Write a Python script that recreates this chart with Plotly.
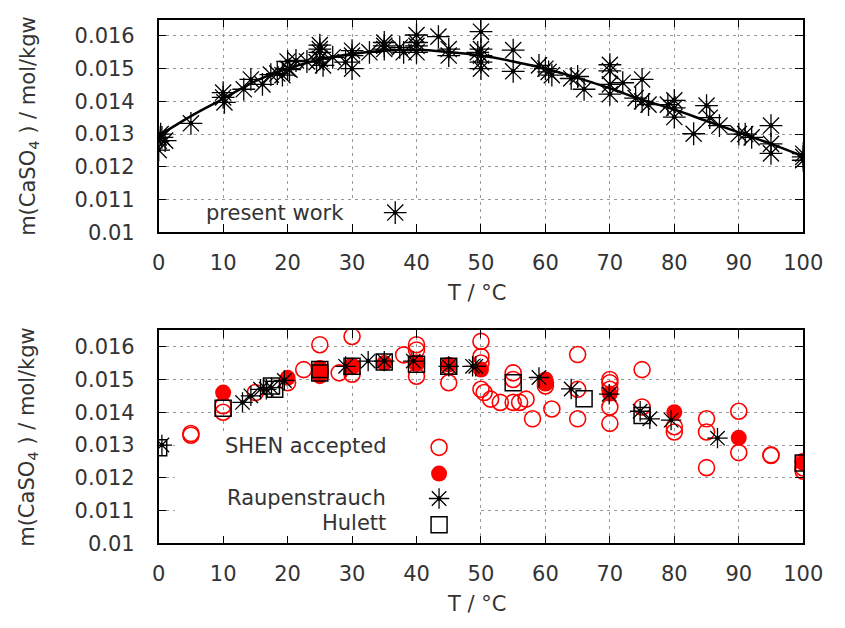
import plotly.graph_objects as go

# ---------------- data ----------------
# present work: measured solubilities (T in degC, m in mol/kgw)
pw_T = [0, 0, 0.3, 0.5, 1, 0, 5, 10, 10, 10.2, 13.2, 14.3, 16.1, 17.4, 18.4, 19.2,
        20, 20, 20.3, 21.3, 23, 24.5, 25, 25, 25, 25, 25.5, 27, 29,
        30, 30, 30, 32.7, 35, 35, 35, 37.4, 38, 40, 40, 40, 40, 43.4, 45, 45,
        49.5, 50, 50, 50, 50, 50, 55, 55, 59, 60, 60.5, 61, 64, 65, 66,
        70, 70, 70, 70, 72, 74, 75, 75, 76, 79, 80, 80, 80, 83, 85, 85.5, 87,
        90, 91, 92, 95, 95, 95, 100, 100, 100]
pw_m = [0.0128, 0.0129, 0.0130, 0.0129, 0.0128, 0.01251, 0.01333, 0.01412, 0.01427, 0.01397,
        0.01437, 0.01467, 0.01452, 0.01482, 0.01485, 0.0148,
        0.01522, 0.0150, 0.01497, 0.01525, 0.01522, 0.0152, 0.01572, 0.0156, 0.0155, 0.0153, 0.0151,
        0.01535, 0.0152,
        0.0154, 0.0150, 0.01555, 0.0155, 0.0157, 0.0156, 0.0158, 0.01565, 0.0155,
        0.01603, 0.0157, 0.0155, 0.0158, 0.01598, 0.0156, 0.0154,
        0.0155, 0.01613, 0.0156, 0.0154, 0.0150, 0.0152, 0.01557, 0.01492,
        0.0151, 0.0150, 0.0149, 0.0148, 0.0147, 0.01476, 0.01437,
        0.01512, 0.01493, 0.01452, 0.01422, 0.01457, 0.0141, 0.01467, 0.0140, 0.0139,
        0.0139, 0.01403, 0.0138, 0.01352, 0.01301, 0.01387, 0.0135, 0.01326,
        0.0130, 0.0130, 0.0129, 0.01326, 0.01241, 0.0127, 0.0122, 0.0123, 0.0124]

# present work: model curve
curve_T = [0, 5, 10, 15, 20, 25, 30, 35, 40, 45, 50, 55, 60, 65, 70, 75, 80, 85, 90, 95, 100]
curve_m = [0.01295, 0.01355, 0.01408, 0.01462, 0.01500, 0.01528, 0.01545, 0.01555, 0.01558,
           0.01551, 0.01540, 0.01522, 0.01500, 0.01472, 0.01440, 0.01405, 0.01375, 0.01340,
           0.01305, 0.01270, 0.01232]

# SHEN accepted (open circles)
shen_T = [5, 5, 10, 10, 15, 20, 22.5, 25, 25, 25, 28, 30, 30, 30, 38, 40, 40, 40, 40, 45, 45,
          50, 50, 50, 50, 50.5, 51.5, 53, 55, 56, 57, 55, 55, 58, 60, 60, 61, 65, 65, 65,
          70, 70, 70, 70, 70, 75, 75, 80, 80, 85, 85, 85, 90, 90, 95, 95, 100, 100, 100]
shen_m = [0.01335, 0.0133, 0.0142, 0.0140, 0.0146, 0.0149, 0.0153, 0.01606, 0.0152, 0.0153,
          0.0152, 0.01631, 0.01516, 0.0154, 0.01575, 0.01606, 0.0159, 0.0151, 0.0155, 0.0149,
          0.0154, 0.01616, 0.0157, 0.0155, 0.0147, 0.0146, 0.0144, 0.0143, 0.0143, 0.0143,
          0.0144, 0.0152, 0.0150, 0.0138, 0.0148, 0.0149, 0.0141, 0.01576, 0.0147, 0.0138,
          0.0150, 0.0149, 0.0147, 0.01416, 0.01366, 0.0153, 0.01416, 0.01356, 0.0134,
          0.0138, 0.0134, 0.01231, 0.01403, 0.01277, 0.0127, 0.01268, 0.0125, 0.0123, 0.0122]

# SHEN accepted (filled circles)
shenf_T = [10, 20, 25, 25, 30, 35, 40, 45, 50, 60, 60, 70, 80, 90, 100]
shenf_m = [0.0146, 0.01505, 0.01535, 0.0151, 0.0154, 0.0155, 0.0155, 0.01545, 0.0153,
           0.0150, 0.0149, 0.01457, 0.0140, 0.01322, 0.01246]

# Raupenstrauch
rau_T = [0.5, 13, 14.3, 15.8, 16.7, 17.5, 19.5, 29, 32.5, 35, 39.5, 45, 48.7, 49.2,
         59, 64, 69.9, 74.7, 76.2, 79.5, 86.7]
rau_m = [0.0130, 0.0143, 0.0145, 0.0147, 0.0147, 0.01475, 0.01497, 0.0154, 0.01556,
         0.01556, 0.01556, 0.0154, 0.0154, 0.0154, 0.01506, 0.01471, 0.01455, 0.01403,
         0.0138, 0.01376, 0.01321]

# Hulett
hul_T = [0, 10, 17.5, 18, 25, 25, 30, 35, 40, 45, 55, 66, 75, 100]
hul_m = [0.01292, 0.01412, 0.0148, 0.0147, 0.0153, 0.0152, 0.0154, 0.01553, 0.01546,
         0.0154, 0.0149, 0.01441, 0.0139, 0.01245]

x_ticks = [0, 10, 20, 30, 40, 50, 60, 70, 80, 90, 100]
y_ticks = [0.010, 0.011, 0.012, 0.013, 0.014, 0.015, 0.016]
y_ticktext = ["0.01", "0.011", "0.012", "0.013", "0.014", "0.015", "0.016"]

# ---------------- styling ----------------
W, H = 845, 628
FONT = "DejaVu Sans"
FS = 21
TXT = "#333333"
RED = "#ff0000"
xdom = [156.7 / W, 822.5 / W]
top_dom = [1 - 236.7 / H, 1 - 20 / H]
bot_dom = [1 - 554 / H, 1 - 336.7 / H]

fig = go.Figure()


def star_traces(xs, ys, xa, ya, size):
    fig.add_trace(go.Scatter(x=xs, y=ys, mode="markers", xaxis=xa, yaxis=ya, showlegend=False,
                             marker=dict(symbol="asterisk-open", size=size, color="black",
                                         line=dict(color="black", width=1.3))))
    fig.add_trace(go.Scatter(x=xs, y=ys, mode="markers", xaxis=xa, yaxis=ya, showlegend=False,
                             marker=dict(symbol="circle", size=4.5, color="black")))


# top panel
star_traces(pw_T, pw_m, "x", "y", 19)
fig.add_trace(go.Scatter(x=curve_T, y=curve_m, mode="lines", xaxis="x", yaxis="y",
                         showlegend=False, line=dict(color="black", width=2.5, shape="spline")))

# bottom panel
fig.add_trace(go.Scatter(x=shen_T, y=shen_m, mode="markers", xaxis="x2", yaxis="y2",
                         showlegend=False,
                         marker=dict(symbol="circle-open", size=16, color=RED,
                                     line=dict(color=RED, width=1.6))))
fig.add_trace(go.Scatter(x=shenf_T, y=shenf_m, mode="markers", xaxis="x2", yaxis="y2",
                         showlegend=False,
                         marker=dict(symbol="circle", size=16, color=RED,
                                     line=dict(color=RED, width=0))))
star_traces(rau_T, rau_m, "x2", "y2", 17)
fig.add_trace(go.Scatter(x=hul_T, y=hul_m, mode="markers", xaxis="x2", yaxis="y2",
                         showlegend=False,
                         marker=dict(symbol="square-open", size=16, color="black",
                                     line=dict(color="black", width=1.5))))

# key entries (symbol samples placed in axis units)
key_top = dict(x=36.7, y=0.0106)
star_traces([key_top["x"]], [key_top["y"]], "x", "y", 19)
key_x = 43.5
fig.add_trace(go.Scatter(x=[key_x], y=[0.01293], mode="markers", xaxis="x2", yaxis="y2",
                         showlegend=False,
                         marker=dict(symbol="circle-open", size=16, color=RED,
                                     line=dict(color=RED, width=1.6))))
fig.add_trace(go.Scatter(x=[key_x], y=[0.01213], mode="markers", xaxis="x2", yaxis="y2",
                         showlegend=False,
                         marker=dict(symbol="circle", size=16, color=RED)))
star_traces([key_x], [0.01137], "x2", "y2", 17)
fig.add_trace(go.Scatter(x=[key_x], y=[0.01057], mode="markers", xaxis="x2", yaxis="y2",
                         showlegend=False,
                         marker=dict(symbol="square-open", size=16, color="black",
                                     line=dict(color="black", width=1.5))))

axis_common = dict(
    range=[0, 100], tickvals=x_ticks, ticks="inside", ticklen=8, tickwidth=1.3,
    tickcolor="black", showline=True, linecolor="black", linewidth=1.5, mirror="ticks",
    showgrid=True, gridcolor="#999999", gridwidth=1, griddash="3px,4px", zeroline=False,
    tickfont=dict(family=FONT, size=FS, color=TXT), ticklabelstandoff=11,
)
yaxis_common = dict(
    range=[0.010, 0.0165], tickvals=y_ticks, ticktext=y_ticktext, ticks="inside", ticklen=8,
    tickwidth=1.3, tickcolor="black", showline=True, linecolor="black", linewidth=1.5,
    mirror="ticks", showgrid=True, gridcolor="#999999", gridwidth=1, griddash="3px,4px",
    zeroline=False, tickfont=dict(family=FONT, size=FS, color=TXT), ticklabelstandoff=18,
)

# opaque key backgrounds: hide the grid behind the key, below the data
shapes = [
    dict(type="rect", xref="x", yref="y", x0=0, x1=43.4, y0=0.010, y1=0.01097,
         fillcolor="white", line=dict(width=0), layer="between"),
    dict(type="rect", xref="x2", yref="y2", x0=2.5, x1=49.6, y0=0.010, y1=0.01338,
         fillcolor="white", line=dict(width=0), layer="between"),
]

annots = []
# axis titles
for yc in (299, 616):
    annots.append(dict(text="T / °C", xref="paper", yref="paper", x=485 / W, y=1 - yc / H,
                       xanchor="center", yanchor="middle", showarrow=False,
                       font=dict(family=FONT, size=FS, color=TXT)))
for yc in (128, 445):
    annots.append(dict(text="m(CaSO<sub>4</sub> ) / mol/kgw", xref="paper", yref="paper",
                       x=22 / W, y=1 - yc / H, xanchor="center", yanchor="middle",
                       textangle=-90, showarrow=False,
                       font=dict(family=FONT, size=FS, color=TXT)))
# key labels
annots.append(dict(text="present work", xref="x", yref="y", x=29.0, y=0.0106,
                   xanchor="right", yanchor="middle", showarrow=False,
                   font=dict(family=FONT, size=FS, color=TXT)))
for label, yv in (("SHEN accepted", 0.01296), ("Raupenstrauch", 0.0114), ("Hulett", 0.01062)):
    annots.append(dict(text=label, xref="x2", yref="y2", x=35.6, y=yv,
                       xanchor="right", yanchor="middle", showarrow=False,
                       font=dict(family=FONT, size=FS, color=TXT)))

fig.update_layout(
    width=W, height=H, margin=dict(l=0, r=0, t=0, b=0),
    paper_bgcolor="white", plot_bgcolor="white", showlegend=False,
    xaxis=dict(domain=xdom, anchor="y", **axis_common),
    yaxis=dict(domain=top_dom, anchor="x", **yaxis_common),
    xaxis2=dict(domain=xdom, anchor="y2", **axis_common),
    yaxis2=dict(domain=bot_dom, anchor="x2", **yaxis_common),
    shapes=shapes,
    annotations=annots,
)

fig.write_html("out.html")
